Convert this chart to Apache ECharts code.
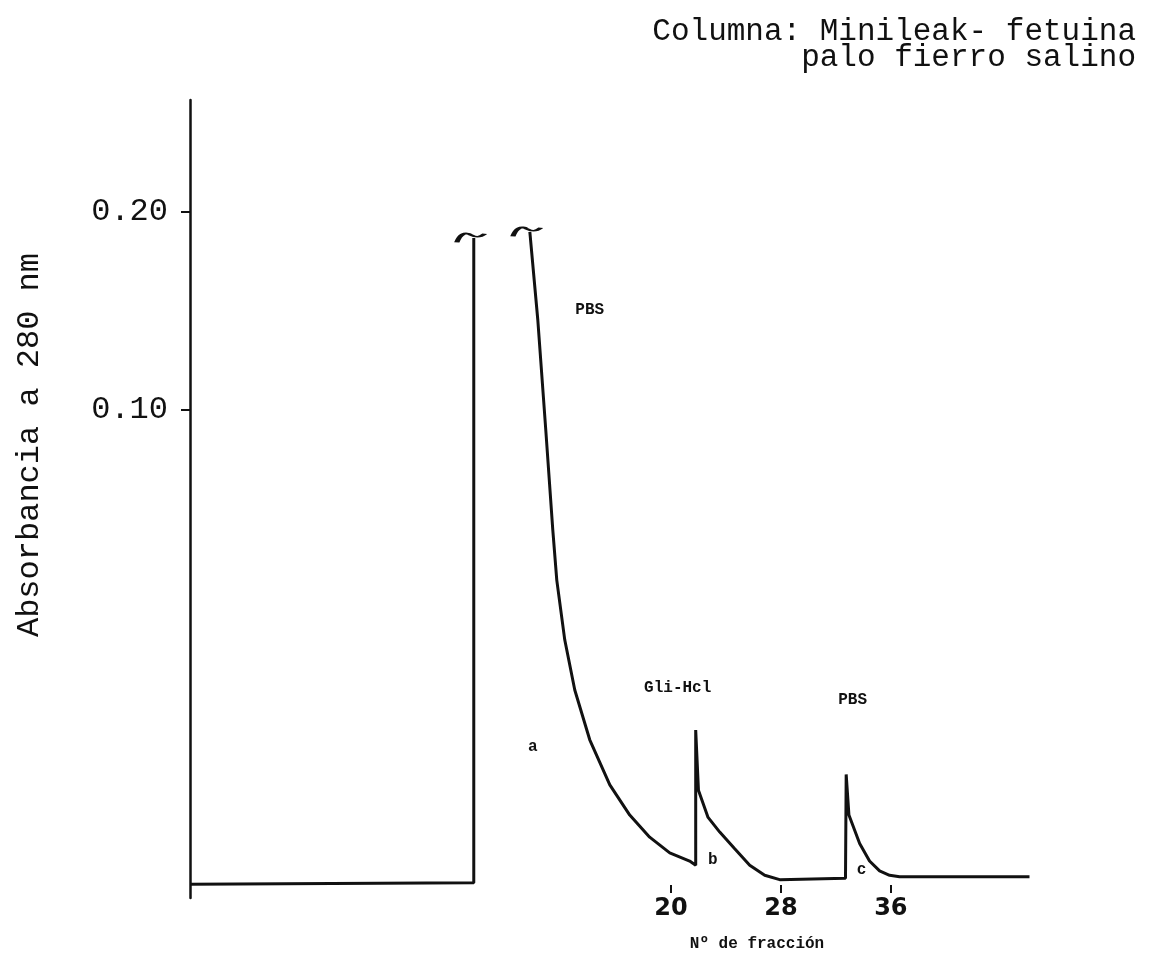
<!DOCTYPE html>
<html>
<head>
<meta charset="utf-8">
<script src="https://cdn.jsdelivr.net/npm/echarts@6/dist/echarts.min.js"></script>
<style>
  html, body { margin: 0; padding: 0; background: #fff; }
  #chart { width: 1154px; height: 972px; }
</style>
</head>
<body>
<div id="chart"></div>
<script>
// Loading phase: flat baseline, then the off-scale front (truncated at the top)
const fractionsLoad = [-15, 5.65, 5.65];
const absorbLoad = [0.0190, 0.0191, 0.1826];

// Washing (PBS), Gli-HCl elution (b) and PBS re-equilibration (c)
const fractionsElution = [9.73, 10.31, 10.89, 11.40, 11.69, 12.27, 13.0, 14.09, 15.55, 17.0, 18.45, 19.91, 21.36, 21.80,
  21.80, 22.0, 22.7, 23.55, 24.64, 25.73, 26.82, 27.91,
  32.70, 32.75, 32.95, 33.73, 34.45, 35.18, 35.91, 36.64, 46.09];
const absorbElution = [0.1865, 0.137, 0.0932, 0.0657, 0.0551, 0.0447, 0.0375, 0.0315, 0.0269, 0.0242, 0.0224, 0.0212, 0.0206, 0.0203,
  0.0326, 0.0264, 0.0240, 0.0228, 0.0215, 0.0203, 0.0196, 0.0193,
  0.0194, 0.0279, 0.0242, 0.0219, 0.0206, 0.0199, 0.0196, 0.0195, 0.0195];

// Text annotations placed at data coordinates
const annotationText = ['PBS', 'a', 'Gli-Hcl', 'b', 'PBS', 'c'];
const annotationFraction = [14.09, 9.95, 20.49, 23.04, 33.22, 33.87];
const annotationAbsorb = [0.142, 0.0307, 0.0378, 0.0207, 0.0362, 0.0200];

// Axis ticks
const xTickValues = [20, 28, 36];
const yTickValues = [0.10, 0.20];

const INK = '#111';
const MONO = '"Liberation Mono", "DejaVu Sans Mono", monospace';

const zip = (xs, ys) => xs.map((x, i) => [x, ys[i]]);
const loadData = zip(fractionsLoad, absorbLoad);
const elutionData = zip(fractionsElution, absorbElution);
const annotationData = annotationText.map((t, i) => ({
  name: t,
  value: [annotationFraction[i], annotationAbsorb[i]]
}));
// break marks on the two truncated tops
const breakData = [loadData[loadData.length - 1], elutionData[0]];

const chart = echarts.init(document.getElementById('chart'), null, { renderer: 'canvas' });

chart.setOption({
  backgroundColor: '#fff',
  animation: false,
  grid: { left: 190, right: 112, top: 100, bottom: 74 },
  xAxis: {
    type: 'value',
    min: -15,
    max: 47,
    offset: -13,
    axisLine: { show: false, onZero: false },
    splitLine: { show: false },
    axisTick: {
      show: true,
      customValues: xTickValues,
      length: 8,
      lineStyle: { color: INK, width: 2 }
    },
    axisLabel: {
      customValues: xTickValues,
      margin: 12,
      color: INK,
      fontFamily: '"DejaVu Sans", sans-serif',
      fontWeight: 'bold',
      fontSize: 24
    }
  },
  yAxis: {
    type: 'log',
    logBase: 10,
    min: 0.0181,
    max: 0.296,
    axisLine: { show: true, onZero: false, lineStyle: { color: INK, width: 2.5 } },
    splitLine: { show: false },
    axisTick: {
      show: true,
      customValues: yTickValues,
      length: 9,
      lineStyle: { color: INK, width: 2 }
    },
    axisLabel: {
      customValues: yTickValues,
      formatter: v => Number(v).toFixed(2),
      margin: 22,
      color: INK,
      fontFamily: MONO,
      fontSize: 32
    }
  },
  series: [
    {
      name: 'carga',
      type: 'line',
      data: loadData,
      symbol: 'none',
      lineStyle: { color: INK, width: 3 },
      z: 3
    },
    {
      name: 'elución',
      type: 'line',
      data: elutionData,
      symbol: 'none',
      lineStyle: { color: INK, width: 3 },
      z: 3
    },
    {
      name: 'corte',
      type: 'scatter',
      data: breakData,
      symbol: 'path://M0,10 C3,2 8,0 13,3 C17,5 21,6 26,2',
      symbolSize: [28, 9],
      symbolOffset: [-3, 0],
      itemStyle: { color: 'none', borderColor: INK, borderWidth: 3, opacity: 1 },
      silent: true,
      z: 4
    },
    {
      name: 'anotaciones',
      type: 'scatter',
      data: annotationData,
      symbolSize: 0,
      silent: true,
      itemStyle: { opacity: 1 },
      label: {
        show: true,
        position: 'inside',
        formatter: p => p.name,
        color: INK,
        opacity: 1,
        textBorderWidth: 0,
        fontFamily: MONO,
        fontWeight: 'bold',
        fontSize: 16
      },
      z: 5
    }
  ],
  graphic: [
    {
      type: 'text',
      x: 1136,
      y: 19,
      style: {
        text: 'Columna: Minileak- fetuina\npalo fierro salino',
        align: 'right',
        verticalAlign: 'top',
        fill: INK,
        font: '31px ' + MONO,
        lineHeight: 26
      }
    },
    {
      type: 'text',
      x: 30,
      y: 445,
      rotation: Math.PI / 2,
      style: {
        text: 'Absorbancia a 280 nm',
        align: 'center',
        verticalAlign: 'middle',
        fill: INK,
        font: '32px ' + MONO
      }
    },
    {
      type: 'text',
      x: 757,
      y: 944,
      style: {
        text: 'Nº de fracción',
        align: 'center',
        verticalAlign: 'middle',
        fill: INK,
        font: 'bold 16px ' + MONO
      }
    }
  ]
});
</script>
</body>
</html>
